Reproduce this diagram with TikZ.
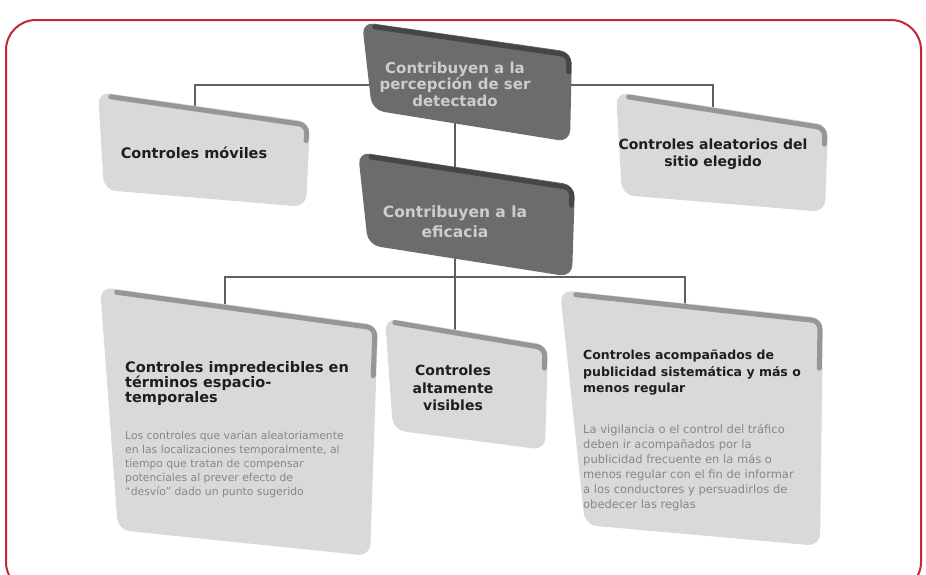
\documentclass[tikz,border=0pt]{standalone}
\usepackage{fontspec}
\setmainfont{DejaVu Sans}
\usetikzlibrary{calc}
\definecolor{frame}{RGB}{192,40,50}
\definecolor{boxlight}{RGB}{217,217,217}
\definecolor{edgelight}{RGB}{150,150,150}
\definecolor{boxdark}{RGB}{108,108,108}
\definecolor{edgedark}{RGB}{70,70,70}
\definecolor{connc}{RGB}{95,95,95}
\definecolor{titlec}{RGB}{30,30,30}
\definecolor{bodyc}{RGB}{135,135,135}
\definecolor{darktext}{RGB}{205,205,205}
\newcommand{\mypanel}[6]{%
  \coordinate (#1-tl) at #2; \coordinate (#1-tr) at #3;
  \coordinate (#1-br) at #4; \coordinate (#1-bl) at #5;
  \fill[#6fill, rounded corners=12] (#1-tl) -- (#1-tr) -- (#1-br) -- (#1-bl) -- cycle;
  \draw[#6edge, line width=5, rounded corners=8, line cap=round]
    ($(#1-tl)!0.06!(#1-tr)+(0,3)$) -- ($(#1-tr)+(-3,3)$) -- ($(#1-tr)!0.22!(#1-br)+(-3,0)$);
}
\tikzset{
  lightfill/.style={fill=boxlight},
  lightedge/.style={draw=edgelight},
  darkfill/.style={fill=boxdark},
  darkedge/.style={draw=edgedark},
  conn/.style={draw=connc, line width=2.2},
  titletext/.style={text=titlec, font=\bfseries\fontsize{14.5}{15}\selectfont, inner sep=0pt},
  darklabel/.style={text=darktext, font=\bfseries\fontsize{15}{16.5}\selectfont, inner sep=0pt, align=center},
  bodytext/.style={text=bodyc, font=\fontsize{10.8}{14}\selectfont, inner sep=0pt, align=left, anchor=north west},
}
\begin{document}
\begin{tikzpicture}[x=1pt,y=-1pt]
\useasboundingbox (0,0) rectangle (926,574);
\fill[white] (0,0) rectangle (926,574);
\begin{scope}
\clip (0,0) rectangle (926,574);
\draw[frame, line width=2, rounded corners=30] (6,20) rectangle (921,592);
\end{scope}

% connector points
\coordinate (d1w) at (380,85);
\coordinate (L1top) at (195,112);
\coordinate (d1e) at (560,85);
\coordinate (R1top) at (713,115);
\coordinate (d1s) at (455,120);
\coordinate (d2n) at (455,175);
\coordinate (d2s) at (455,255);
\coordinate (B2top) at (455,340);
\coordinate (busl) at (225,277);
\coordinate (busr) at (685,277);
\coordinate (B1top) at (225,305);
\coordinate (B3top) at (685,310);

\draw[conn] (d1w) -| (L1top);
\draw[conn] (d1e) -| (R1top);
\draw[conn] (d1s) -- (d2n);
\draw[conn] (d2s) -- (B2top);
\draw[conn] (B1top) |- (busr) -- (B3top);

% panels
\mypanel{d1}{(362,22)}{(572,52)}{(570,142)}{(372,110)}{dark}
\mypanel{L1}{(98,92)}{(310,122)}{(306,207)}{(104,190)}{light}
\mypanel{R1}{(616,92)}{(828,125)}{(825,212)}{(622,195)}{light}
\mypanel{d2}{(358,152)}{(575,185)}{(572,277)}{(368,245)}{dark}
\mypanel{B1}{(100,287)}{(378,325)}{(370,556)}{(118,530)}{light}
\mypanel{B2}{(385,318)}{(548,345)}{(545,450)}{(393,430)}{light}
\mypanel{B3}{(560,290)}{(823,318)}{(820,546)}{(585,525)}{light}

% texts
\node[darklabel] (t1) at (455,84) {Contribuyen a la\\percepción de ser\\detectado};
\node[titletext] (t2) at (194,153) {Controles móviles};
\node[titletext, align=center, font=\bfseries\fontsize{14}{17}\selectfont] (t3) at (713,154) {Controles aleatorios del\\sitio elegido};
\node[darklabel, font=\bfseries\fontsize{15.5}{20}\selectfont] (t4) at (455,222) {Contribuyen a la\\eficacia};
\node[titletext, align=left, anchor=north west] (t5) at (125,361) {Controles impredecibles en\\términos espacio-\\temporales};
\node[bodytext] (t6) at (125,431) {Los controles que varían aleatoriamente\\en las localizaciones temporalmente, al\\tiempo que tratan de compensar\\potenciales al prever efecto de\\“desvío” dado un punto sugerido};
\node[titletext, align=center, font=\bfseries\fontsize{14}{17.5}\selectfont] (t7) at (453,388) {Controles\\altamente\\visibles};
\node[titletext, align=left, anchor=north west, font=\bfseries\fontsize{12.5}{16.5}\selectfont] (t8) at (583,350) {Controles acompañados de\\publicidad sistemática y más o\\menos regular};
\node[bodytext, font=\fontsize{11.5}{15}\selectfont] (t9) at (583,424) {La vigilancia o el control del tráfico\\deben ir acompañados por la\\publicidad frecuente en la más o\\menos regular con el fin de informar\\a los conductores y persuadirlos de\\obedecer las reglas};
\end{tikzpicture}
\end{document}
